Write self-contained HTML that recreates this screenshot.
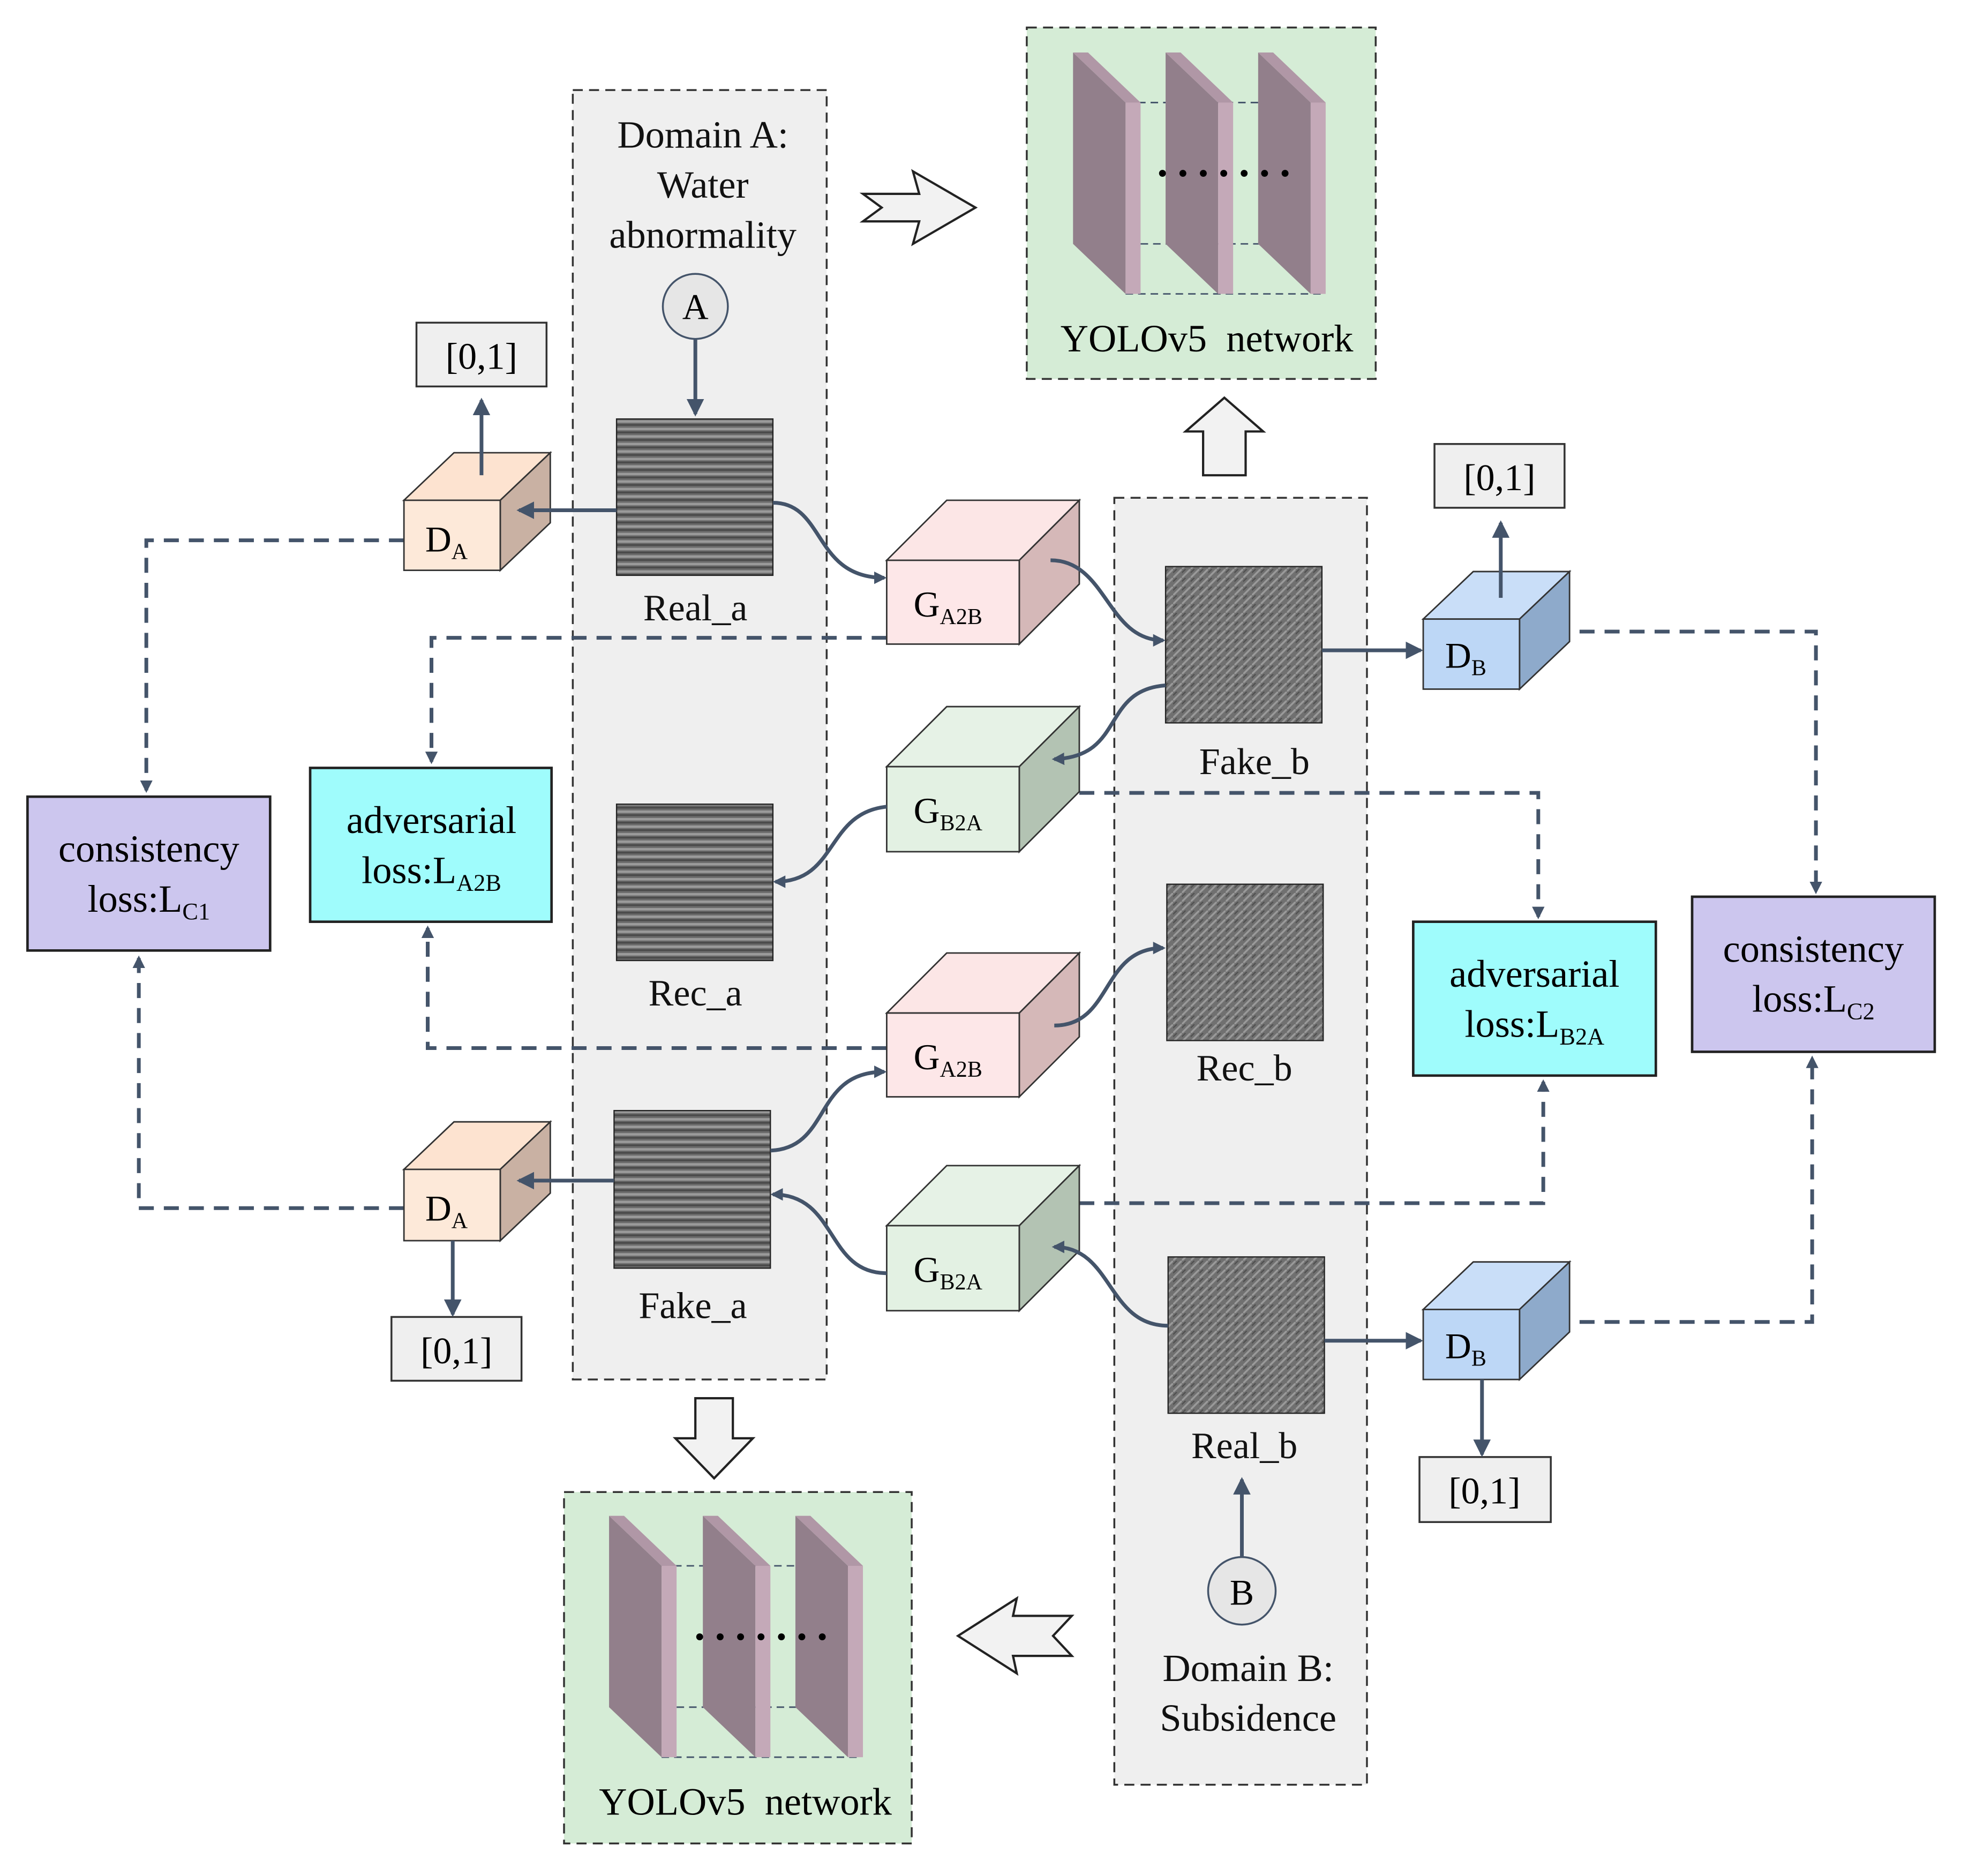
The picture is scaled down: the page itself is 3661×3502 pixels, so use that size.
<!DOCTYPE html>
<html><head><meta charset="utf-8"><style>html,body{margin:0;padding:0;background:#fff}svg{display:block}</style></head>
<body>
<svg xmlns="http://www.w3.org/2000/svg" width="3661" height="3502" viewBox="0 0 1568 1500" preserveAspectRatio="none" font-family="'Liberation Serif',serif">
<defs>
<marker id="ah" markerWidth="10" markerHeight="10" refX="8" refY="5" orient="auto" markerUnits="userSpaceOnUse" viewBox="0 0 10 10"><path d="M0,0 L10,5 L0,10 z" fill="#44546a"/></marker>
<marker id="ah2" markerWidth="14" markerHeight="14" refX="12" refY="7" orient="auto" markerUnits="userSpaceOnUse" viewBox="0 0 14 14"><path d="M0,0 L14,7 L0,14 z" fill="#44546a"/></marker>
<pattern id="seisA" width="125" height="6" patternUnits="userSpaceOnUse"><rect width="125" height="6" fill="#6b6b6b"/><rect y="0" width="125" height="2" fill="#9a9a9a"/><rect y="3" width="125" height="1.5" fill="#4a4a4a"/></pattern>
<pattern id="seisB" width="7" height="7" patternUnits="userSpaceOnUse"><rect width="7" height="7" fill="#707070"/><path d="M0,7 L7,0" stroke="#9a9a9a" stroke-width="1.5"/><path d="M0,3 L3,0" stroke="#505050" stroke-width="1"/></pattern>
<g id="slab"><polygon points="0,0 42,40 42,193 0,153" fill="#927f8b"/><polygon points="42,40 54,40 54,193 42,193" fill="#c4a9b8"/><polygon points="0,0 12,0 54,40 42,40" fill="#b097a6"/></g>
</defs>

<rect x="458" y="72" width="203" height="1031" fill="#efefef" stroke="#333" stroke-width="1.5" stroke-dasharray="8,5"/>
<rect x="891" y="398" width="202" height="1029" fill="#efefef" stroke="#333" stroke-width="1.5" stroke-dasharray="8,5"/>
<g font-size="31" text-anchor="middle" fill="#111">
<text x="562" y="118">Domain A:</text><text x="562" y="158">Water</text><text x="562" y="198">abnormality</text>
<text x="998" y="1344">Domain B:</text><text x="998" y="1384">Subsidence</text>
</g>

<rect x="821" y="22" width="279" height="281" fill="#d5ecd6" stroke="#333" stroke-width="1.5" stroke-dasharray="8,5"/>
<g stroke="#44546a" stroke-width="1.2" stroke-dasharray="6,4" fill="none"><path d="M900,82 H1060 M900,235 H1060 M912,195 H1010"/></g>
<use href="#slab" x="858" y="42"/><use href="#slab" x="932" y="42"/><use href="#slab" x="1006" y="42"/>
<text x="981" y="150" font-size="34" font-weight="bold" text-anchor="middle" letter-spacing="5">·······</text>
<text x="965" y="281" font-size="31" text-anchor="middle" xml:space="preserve">YOLOv5  network</text>

<rect x="451" y="1193" width="278" height="281" fill="#d5ecd6" stroke="#333" stroke-width="1.5" stroke-dasharray="8,5"/>
<g stroke="#44546a" stroke-width="1.2" stroke-dasharray="6,4" fill="none"><path d="M529,1252 H689 M529,1405 H689 M541,1365 H640"/></g>
<use href="#slab" x="487" y="1212"/><use href="#slab" x="562" y="1212"/><use href="#slab" x="636" y="1212"/>
<text x="611" y="1320" font-size="34" font-weight="bold" text-anchor="middle" letter-spacing="5">·······</text>
<text x="596" y="1451" font-size="31" text-anchor="middle" xml:space="preserve">YOLOv5  network</text>

<g fill="#f2f2f2" stroke="#222" stroke-width="1.8">
<polygon points="690,155 735,155 730,137 780,166 730,195 735,177 690,177 705,166"/>
<polygon points="948,345 962,345 962,380 996,380 996,345 1010,345 979,318"/>
<polygon points="540,1150 556,1150 556,1118 586,1118 586,1150 602,1150 571,1182"/>
<polygon points="857,1292 810,1292 813,1278 766,1308 813,1338 810,1324 857,1324 842,1308"/>
</g>

<rect x="493" y="335" width="125" height="125" fill="url(#seisA)" stroke="#222"/>
<rect x="493" y="643" width="125" height="125" fill="url(#seisA)" stroke="#222"/>
<rect x="491" y="888" width="125" height="126" fill="url(#seisA)" stroke="#222"/>
<rect x="932" y="453" width="125" height="125" fill="url(#seisB)" stroke="#222"/>
<rect x="933" y="707" width="125" height="125" fill="url(#seisB)" stroke="#222"/>
<rect x="934" y="1005" width="125" height="125" fill="url(#seisB)" stroke="#222"/>
<g font-size="30" text-anchor="middle" fill="#111">
<text x="556" y="496">Real_a</text><text x="556" y="804">Rec_a</text><text x="554" y="1054">Fake_a</text>
<text x="1003" y="619">Fake_b</text><text x="995" y="864">Rec_b</text><text x="995" y="1166">Real_b</text>
</g>

<circle cx="556" cy="245" r="26" fill="#e6e6e6" stroke="#44546a" stroke-width="1.5"/>
<text x="556" y="255" font-size="29" text-anchor="middle">A</text>
<circle cx="993" cy="1272" r="27" fill="#e6e6e6" stroke="#44546a" stroke-width="1.5"/>
<text x="993" y="1283" font-size="29" text-anchor="middle">B</text>

<g fill="#efefef" stroke="#333" stroke-width="1.5">
<rect x="333" y="258" width="104" height="51"/><rect x="1147" y="355" width="104" height="51"/>
<rect x="313" y="1053" width="104" height="51"/><rect x="1135" y="1165" width="105" height="52"/>
</g>
<g font-size="30" text-anchor="middle"><text x="385" y="295">[0,1]</text><text x="1199" y="392">[0,1]</text><text x="365" y="1090">[0,1]</text><text x="1187" y="1202">[0,1]</text></g>

<rect x="22" y="637" width="194" height="123" fill="#ccc6ee" stroke="#222" stroke-width="2"/>
<rect x="248" y="614" width="193" height="123" fill="#9ffcfc" stroke="#222" stroke-width="2"/>
<rect x="1130" y="737" width="194" height="123" fill="#9ffcfc" stroke="#222" stroke-width="2"/>
<rect x="1353" y="717" width="194" height="124" fill="#ccc6ee" stroke="#222" stroke-width="2"/>
<g font-size="31" text-anchor="middle">
<text x="119" y="689">consistency</text><text x="119" y="729">loss:L<tspan font-size="19" dy="6">C1</tspan></text>
<text x="345" y="666">adversarial</text><text x="345" y="706">loss:L<tspan font-size="19" dy="6">A2B</tspan></text>
<text x="1227" y="789">adversarial</text><text x="1227" y="829">loss:L<tspan font-size="19" dy="6">B2A</tspan></text>
<text x="1450" y="769">consistency</text><text x="1450" y="809">loss:L<tspan font-size="19" dy="6">C2</tspan></text>
</g>

<g fill="none" stroke="#44546a" stroke-width="3" stroke-dasharray="12,8">
<path d="M323,432 H117 V632" marker-end="url(#ah)"/>
<path d="M709,510 H345 V609" marker-end="url(#ah)"/>
<path d="M843,634 H1230 V733" marker-end="url(#ah)"/>
<path d="M1243,505 H1452 V713" marker-end="url(#ah)"/>
<path d="M709,838 H342 V742" marker-end="url(#ah)"/>
<path d="M323,966 H111 V766" marker-end="url(#ah)"/>
<path d="M843,962 H1234 V865" marker-end="url(#ah)"/>
<path d="M1243,1057 H1449 V846" marker-end="url(#ah)"/>
</g>

<g stroke="#333" stroke-width="1.2">
<polygon points="323,400 363,362 440,362 400,400" fill="#fde3d0"/><polygon points="400,400 440,362 440,418 400,456" fill="#c9b1a3"/><rect x="323" y="400" width="77" height="56" fill="#fde9d9"/>
<polygon points="323,935 363,897 440,897 400,935" fill="#fde3d0"/><polygon points="400,935 440,897 440,954 400,992" fill="#c9b1a3"/><rect x="323" y="935" width="77" height="57" fill="#fde9d9"/>
<polygon points="1138,495 1178,457 1255,457 1215,495" fill="#c9def8"/><polygon points="1215,495 1255,457 1255,513 1215,551" fill="#8eaacb"/><rect x="1138" y="495" width="77" height="56" fill="#bdd7f6"/>
<polygon points="1138,1047 1178,1009 1255,1009 1215,1047" fill="#c9def8"/><polygon points="1215,1047 1255,1009 1255,1065 1215,1103" fill="#8eaacb"/><rect x="1138" y="1047" width="77" height="56" fill="#bdd7f6"/>
<polygon points="709,448 757,400 863,400 815,448" fill="#fce6e6"/><polygon points="815,448 863,400 863,467 815,515" fill="#d5b8b8"/><rect x="709" y="448" width="106" height="67" fill="#fde7e8"/>
<polygon points="709,613 757,565 863,565 815,613" fill="#e6f2e6"/><polygon points="815,613 863,565 863,633 815,681" fill="#b3c3b3"/><rect x="709" y="613" width="106" height="68" fill="#e3f1e3"/>
<polygon points="709,810 757,762 863,762 815,810" fill="#fce6e6"/><polygon points="815,810 863,762 863,829 815,877" fill="#d5b8b8"/><rect x="709" y="810" width="106" height="67" fill="#fde7e8"/>
<polygon points="709,980 757,932 863,932 815,980" fill="#e6f2e6"/><polygon points="815,980 863,932 863,1000 815,1048" fill="#b3c3b3"/><rect x="709" y="980" width="106" height="68" fill="#e3f1e3"/>
</g>
<g font-size="29" text-anchor="middle">
<text x="357" y="441">D<tspan font-size="18" dy="6">A</tspan></text>
<text x="357" y="976">D<tspan font-size="18" dy="6">A</tspan></text>
<text x="1172" y="534">D<tspan font-size="18" dy="6">B</tspan></text>
<text x="1172" y="1086">D<tspan font-size="18" dy="6">B</tspan></text>
<text x="758" y="493">G<tspan font-size="18" dy="6">A2B</tspan></text>
<text x="758" y="658">G<tspan font-size="18" dy="6">B2A</tspan></text>
<text x="758" y="855">G<tspan font-size="18" dy="6">A2B</tspan></text>
<text x="758" y="1025">G<tspan font-size="18" dy="6">B2A</tspan></text>
</g>

<g fill="none" stroke="#44546a" stroke-width="3">
<path d="M556,271 V331" marker-end="url(#ah2)"/>
<path d="M493,408 H415" marker-end="url(#ah2)"/>
<path d="M385,380 V320" marker-end="url(#ah2)"/>
<path d="M618,402 C660,402 650,462 707,462" marker-end="url(#ah)"/>
<path d="M840,448 C885,448 885,512 930,512" marker-end="url(#ah)"/>
<path d="M1057,520 H1136" marker-end="url(#ah2)"/>
<path d="M1200,478 V418" marker-end="url(#ah2)"/>
<path d="M932,548 C880,552 900,605 843,607" marker-end="url(#ah)"/>
<path d="M709,645 C660,650 670,705 620,705" marker-end="url(#ah)"/>
<path d="M843,820 C890,820 880,758 930,758" marker-end="url(#ah)"/>
<path d="M616,920 C665,918 650,857 707,857" marker-end="url(#ah)"/>
<path d="M709,1018 C660,1018 670,955 618,955" marker-end="url(#ah)"/>
<path d="M934,1060 C885,1060 890,997 843,997" marker-end="url(#ah)"/>
<path d="M491,944 H415" marker-end="url(#ah2)"/>
<path d="M362,992 V1051" marker-end="url(#ah2)"/>
<path d="M1059,1072 H1136" marker-end="url(#ah2)"/>
<path d="M1185,1103 V1163" marker-end="url(#ah2)"/>
<path d="M993,1245 V1183" marker-end="url(#ah2)"/>
</g>
</svg>
</body></html>
